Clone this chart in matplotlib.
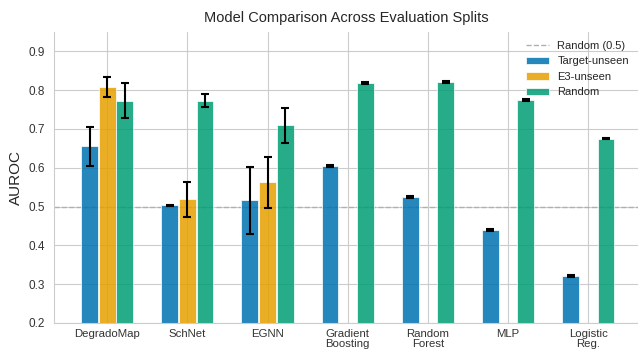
import matplotlib
matplotlib.use("Agg")
import matplotlib.pyplot as plt
import numpy as np
import seaborn as sns

models = ["DegradoMap", "SchNet", "EGNN", "Gradient\nBoosting", "Random\nForest", "MLP", "Logistic\nReg."]
series = ["Target-unseen", "E3-unseen", "Random"]

target_unseen = [0.655, 0.503, 0.516, 0.604, 0.524, 0.439, 0.321]
target_err = [0.050, 0.002, 0.087, 0.002, 0.002, 0.002, 0.002]
e3_unseen = [0.808, 0.519, 0.562, None, None, None, None]
e3_err = [0.026, 0.045, 0.065, None, None, None, None]
random_split = [0.773, 0.773, 0.709, 0.818, 0.821, 0.774, 0.675]
random_err = [0.046, 0.016, 0.044, 0.002, 0.002, 0.002, 0.002]

sns.set_style("whitegrid")
plt.rcParams["font.family"] = ["Liberation Sans", "DejaVu Sans"]

colors = ["#0072B2", "#E69F00", "#009E73"]

fig = plt.figure(figsize=(6.38, 3.51), dpi=100)
ax = fig.add_axes([0.085, 0.08, 0.915, 0.829])

x = np.arange(len(models))
offs = [-0.22, 0.0, 0.22]
width = 0.21
data = [(target_unseen, target_err), (e3_unseen, e3_err), (random_split, random_err)]

ax.axhline(0.5, color="#b0b0b0", linestyle="--", linewidth=1.0, label="Random (0.5)", zorder=1)

for (vals, errs), off, c, name in zip(data, offs, colors, series):
    xs = [xi + off for xi, v in zip(x, vals) if v is not None]
    vs = [v for v in vals if v is not None]
    es = [e for e in errs if e is not None]
    ax.bar(xs, vs, width=width, color=c, alpha=0.85, edgecolor="white", linewidth=0.6,
           label=name, zorder=2)
    ax.errorbar(xs, vs, yerr=es, fmt="none", ecolor="black", elinewidth=1.5,
                capsize=3, capthick=1.5, zorder=3)

ax.set_ylim(0.2, 0.95)
ax.set_xlim(-0.66, 6.62)
ax.set_yticks([0.2, 0.3, 0.4, 0.5, 0.6, 0.7, 0.8, 0.9])
ax.set_xticks(x)
ax.set_xticklabels(models, fontsize=8.2, linespacing=1.0)
ax.tick_params(axis="y", labelsize=8.5, pad=3, colors="#333333")
ax.tick_params(axis="x", pad=1.0, colors="#333333")
ax.set_ylabel("AUROC", fontsize=11, color="#262626")
ax.set_title("Model Comparison Across Evaluation Splits", fontsize=10.5, color="#262626", pad=7)
sns.despine(ax=ax, top=True, right=True)
ax.spines["left"].set_color("#cccccc")
ax.spines["bottom"].set_color("#cccccc")

ax.legend(loc="upper right", frameon=False, fontsize=8, handlelength=2.0,
          borderaxespad=0.4, labelspacing=0.5, handletextpad=0.8)

fig.savefig("out.png", dpi=100)
